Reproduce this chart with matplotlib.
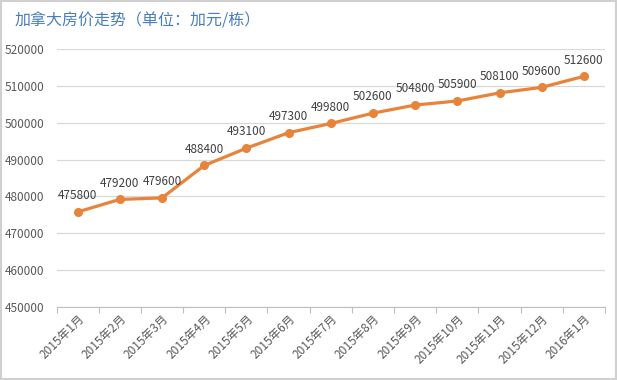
import matplotlib
matplotlib.use("Agg")
import matplotlib.pyplot as plt
from matplotlib.patches import Rectangle

plt.rcParams['font.family'] = ['Noto Sans CJK SC', 'DejaVu Sans']

categories = ["2015年1月", "2015年2月", "2015年3月", "2015年4月", "2015年5月", "2015年6月",
              "2015年7月", "2015年8月", "2015年9月", "2015年10月", "2015年11月", "2015年12月", "2016年1月"]
values = [475800, 479200, 479600, 488400, 493100, 497300, 499800, 502600, 504800, 505900, 508100, 509600, 512600]
yticks = [450000, 460000, 470000, 480000, 490000, 500000, 510000, 520000]
title = "加拿大房价走势（单位：加元/栋）"

fig = plt.figure(figsize=(6.17, 3.80), dpi=100)
fig.patch.set_facecolor("white")
fig.patches.append(Rectangle((0.002, 0.003), 0.996, 0.994, transform=fig.transFigure,
                             fill=False, edgecolor="#D0D0D0", linewidth=1.5))

ax = fig.add_axes([0.0916, 0.192, 0.889, 0.679])
x = list(range(len(categories)))
line_color = "#E8833A"
ax.plot(x, values, color=line_color, linewidth=2.3, marker="o", markersize=5.5, zorder=3)
for xi, v in zip(x, values):
    ax.annotate(f"{v}", (xi, v), xytext=(0, 7), textcoords="offset points",
                ha="center", va="bottom", fontsize=8.5, color="#404040")

ax.set_xlim(-0.5, len(categories) - 0.5)
ax.set_ylim(450000, 520000)
ax.set_yticks(yticks)
ax.set_yticklabels([str(t) for t in yticks], fontsize=8.5, color="#595959")
ax.yaxis.grid(True, color="#D9D9D9", linewidth=0.9)
ax.set_axisbelow(True)
ax.tick_params(axis="y", length=0, pad=9)

ax.set_xticks([i - 0.5 for i in range(len(categories) + 1)], minor=False)
ax.set_xticklabels([""] * (len(categories) + 1))
ax.tick_params(axis="x", length=4, color="#BFBFBF", direction="out")
ax.set_xticks(x, minor=True)
ax.set_xticklabels(categories, minor=True, rotation=45, ha="right", rotation_mode="anchor",
                   fontsize=8.5, color="#595959")
ax.tick_params(axis="x", which="minor", length=0, pad=4)

for s in ["top", "right", "left"]:
    ax.spines[s].set_visible(False)
ax.spines["bottom"].set_color("#BFBFBF")

fig.text(0.024, 0.945, title, fontsize=11.5, color="#4A7EBB", ha="left", va="center")

fig.savefig("out.png", dpi=100)
